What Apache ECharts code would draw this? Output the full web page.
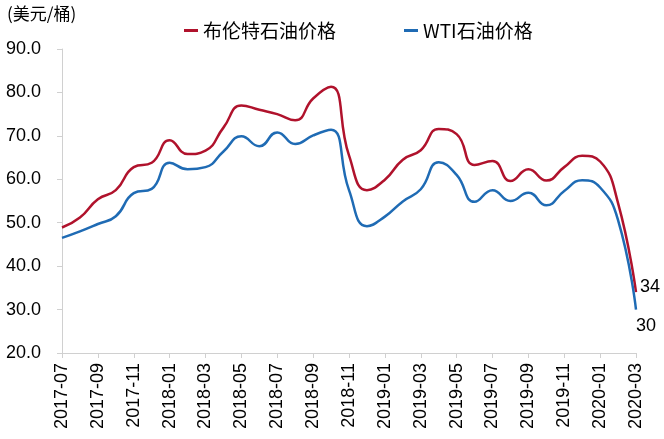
<!DOCTYPE html>
<html>
<head>
<meta charset="utf-8">
<script src="https://cdn.jsdelivr.net/npm/echarts@6/dist/echarts.min.js"></script>
<style>
html,body{margin:0;padding:0;background:#fff;}
#chart{width:664px;height:439px;}
</style>
</head>
<body>
<div id="chart"></div>
<script>
const months = ['2017-07','2017-08','2017-09','2017-10','2017-11','2017-12',
  '2018-01','2018-02','2018-03','2018-04','2018-05','2018-06','2018-07','2018-08','2018-09','2018-10','2018-11','2018-12',
  '2019-01','2019-02','2019-03','2019-04','2019-05','2019-06','2019-07','2019-08','2019-09','2019-10','2019-11','2019-12',
  '2020-01','2020-02','2020-03'];
const brent = [48.9,51.2,55.4,57.5,62.8,63.8,
  69.0,65.8,66.6,71.9,77.0,76.0,75.0,73.6,78.6,81.3,65.5,57.5,
  59.9,64.5,66.7,71.6,70.4,63.3,64.2,59.6,62.3,59.7,62.8,65.4,
  64.1,54.5,34];
const wti = [46.5,48.0,49.7,51.5,56.8,57.8,
  63.8,62.3,62.8,66.4,69.9,67.6,70.8,68.1,70.1,71.4,57.5,49.2,
  51.4,54.9,57.7,63.9,61.0,54.8,57.5,55.0,56.9,54.0,57.3,59.8,
  58.1,50.6,30];
const yMin = 20, yMax = 90, yStep = 10;
const unitText = '(美元/桶)';
const nameBrent = '布伦特石油价格';
const nameWti = 'WTI石油价格';

const FONT = "'Liberation Sans', Arial, 'Noto Sans CJK SC', sans-serif";
const CJK = "'Noto Sans CJK SC', sans-serif";
const RED = '#B0122C', BLUE = '#1F6BB4';

const chart = echarts.init(document.getElementById('chart'), null, {renderer: 'canvas'});
chart.setOption({
  animation: false,
  backgroundColor: '#fff',
  grid: { left: 62, right: 28, top: 49, bottom: 86, containLabel: false },
  graphic: [{
    type: 'text', left: 7, top: 5,
    style: { text: unitText, fontSize: 17, fill: '#000', fontFamily: CJK }
  }],
  legend: [
    { data: [nameBrent], left: 179, top: 16, icon: 'rect', itemWidth: 14, itemHeight: 3, itemGap: 0,
      textStyle: { fontSize: 19, color: '#000', fontFamily: CJK } },
    { data: [nameWti], left: 399, top: 16, icon: 'rect', itemWidth: 14, itemHeight: 3, itemGap: 0,
      textStyle: { fontSize: 19, color: '#000', fontFamily: CJK } }
  ],
  xAxis: {
    type: 'category', data: months, boundaryGap: false,
    axisLine: { lineStyle: { color: '#D0D0D0', width: 1 } },
    axisTick: { show: true, interval: 1, length: 5, lineStyle: { color: '#D0D0D0' } },
    axisLabel: { interval: 1, rotate: 90, margin: 10, color: '#000', fontSize: 18, fontFamily: FONT },
    splitLine: { show: false }
  },
  yAxis: {
    type: 'value', min: yMin, max: yMax, interval: yStep,
    axisLine: { show: true, lineStyle: { color: '#D0D0D0', width: 1 } },
    axisTick: { show: true, length: 5, lineStyle: { color: '#D0D0D0' } },
    axisLabel: { margin: 21, color: '#000', fontSize: 18, fontFamily: FONT, formatter: v => v.toFixed(1) },
    splitLine: { show: false }
  },
  series: [
    { name: nameBrent, type: 'line', data: brent, smooth: 0.5,
      showSymbol: false, lineStyle: { color: RED, width: 2.5 }, itemStyle: { color: RED },
      endLabel: { show: true, distance: 4, offset: [0, -5], formatter: p => String(Math.round(p.value)),
        color: '#000', fontSize: 18, fontFamily: FONT } },
    { name: nameWti, type: 'line', data: wti, smooth: 0.5,
      showSymbol: false, lineStyle: { color: BLUE, width: 2.5 }, itemStyle: { color: BLUE },
      endLabel: { show: true, distance: 0, offset: [0, 16], formatter: p => String(Math.round(p.value)),
        color: '#000', fontSize: 18, fontFamily: FONT } }
  ]
});
</script>
</body>
</html>
